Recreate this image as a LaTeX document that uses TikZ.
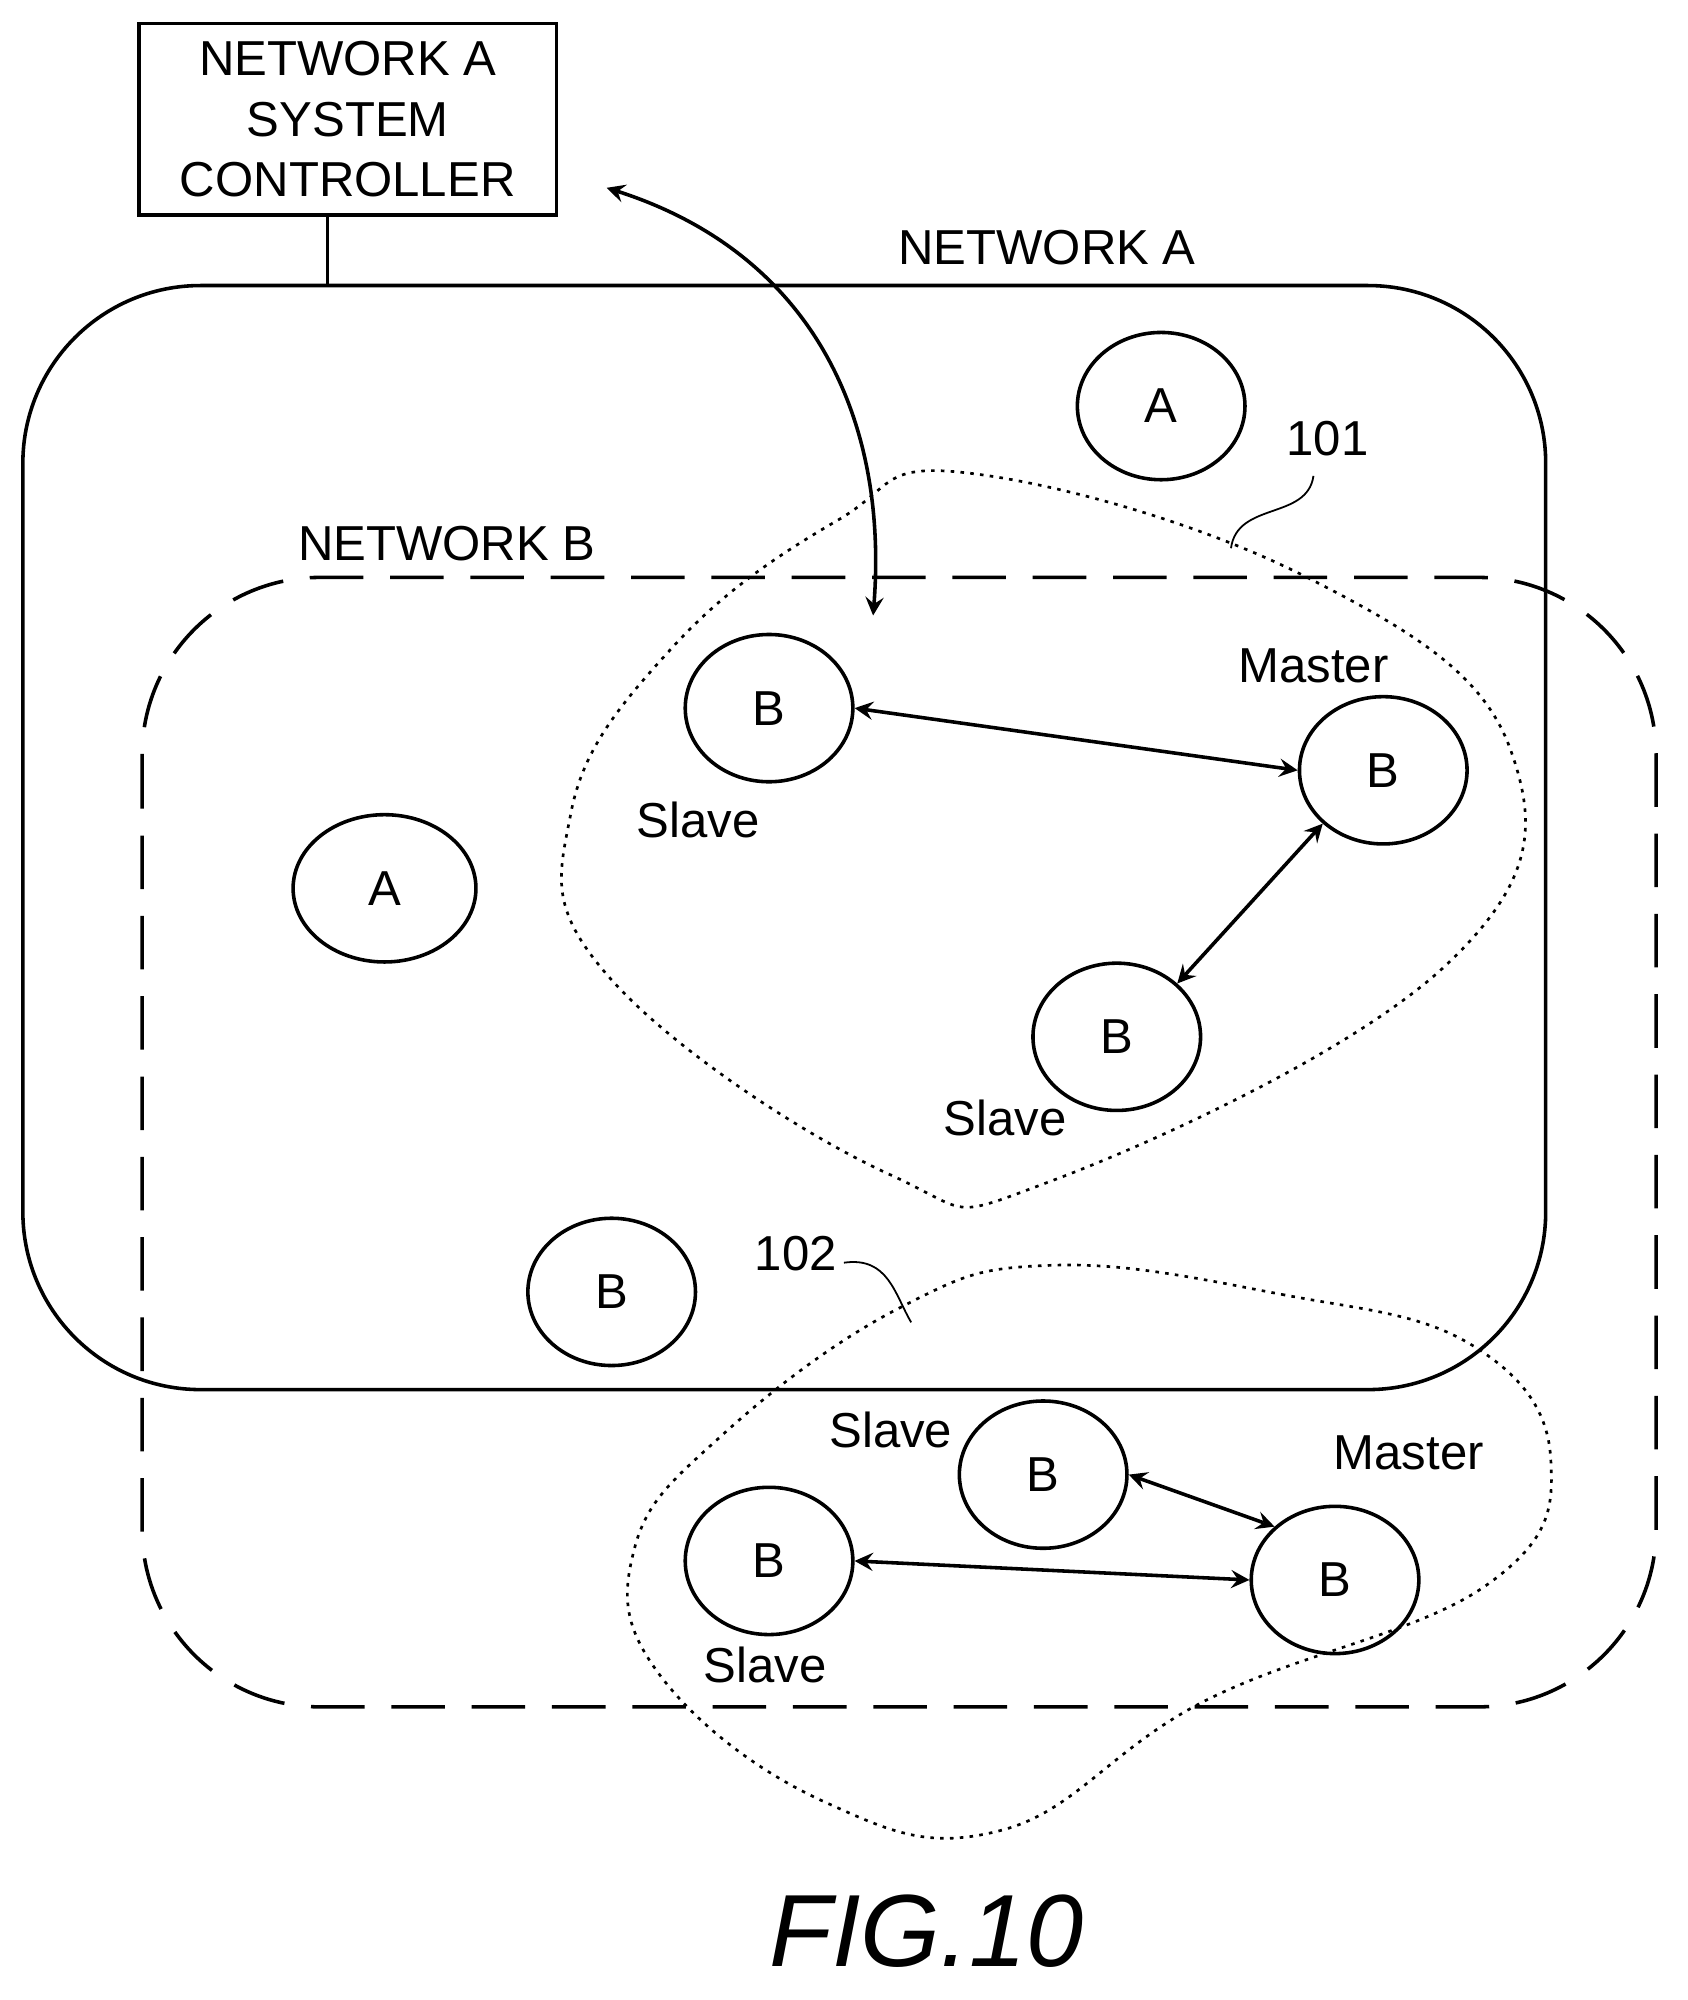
\documentclass[tikz,border=0pt]{standalone}
\usepackage{fontspec}
\setmainfont{Liberation Sans}
\usetikzlibrary{shapes.geometric}
\begin{document}
\begin{tikzpicture}[x=0.01cm,y=-0.01cm,>=stealth,
    dev/.style={draw,thick,ellipse,minimum width=1.32cm,minimum height=1.16cm,font=\fontsize{11}{13}\selectfont},
    lbl/.style={font=\fontsize{11}{13}\selectfont},
    group/.style={semithick,dash pattern=on 0.8pt off 1.4pt},
    link/.style={thick,<->}]
    \useasboundingbox (0,0) rectangle (1330,1576);
    % controller and networks
    \node [draw,thick,minimum width=3.29cm,minimum height=1.51cm,align=center,font=\fontsize{11}{13.5}\selectfont,anchor=north west] (ctrl) at (108,17) {NETWORK A\\SYSTEM\\CONTROLLER};
    \draw [thick,rounded corners=1.4cm] (18,225) rectangle (1218,1095);
    \coordinate (netA) at (258,225);
    \draw [thick] (ctrl.south -| netA) -- (netA);
    \draw [thick,dashed,dash pattern=on 12pt off 6pt,rounded corners=1.4cm] (112,455) rectangle (1305,1345);
    \node [lbl] (labA) at (825,195) {NETWORK A};
    \node [lbl] (labB) at (352,428) {NETWORK B};
    % groups
    \draw [group] plot [smooth cycle,tension=0.7] coordinates {(765,373) (1030,455) (1190,590) (1140,760) (830,930) (700,925) (480,770) (450,640) (530,510) (660,410)};
    \draw [group] plot [smooth cycle,tension=0.7] coordinates {(830,997) (1010,1020) (1160,1060) (1222,1150) (1170,1250) (950,1340) (790,1442) (650,1420) (520,1320) (500,1220) (570,1130) (710,1030)};
    \node [lbl] (n101) at (1046,346) {101};
    \node [lbl] (n102) at (627,988) {102};
    \draw (1035,375) .. controls (1030,410) and (975,395) .. (970,432);
    \draw (665,995) .. controls (700,990) and (705,1020) .. (718,1042);
    % devices
    \node [dev] (a1) at (915,320) {A};
    \node [dev,minimum width=1.44cm] (a2) at (303,700) {A};
    \node [dev] (s1) at (606,558) {B};
    \node [dev] (m1) at (1090,607) {B};
    \node [dev] (s2) at (880,817) {B};
    \node [dev] (b0) at (482,1018) {B};
    \node [dev] (s3) at (822,1162) {B};
    \node [dev] (s4) at (606,1230) {B};
    \node [dev] (m2) at (1052,1245) {B};
    \node [lbl] at (1035,525) {Master};
    \node [lbl] at (550,646) {Slave};
    \node [lbl] at (792,881) {Slave};
    \node [lbl] at (702,1127) {Slave};
    \node [lbl] at (1110,1145) {Master};
    \node [lbl] at (603,1312) {Slave};
    % links
    \coordinate (wl) at (688,485);
    \draw [link] (478,148) .. controls (640,200) and (700,330) .. (wl);
    \draw [link] (s1.east) -- (m1.west);
    \draw [link] (m1.south west) -- (s2.north east);
    \draw [link] (s3.east) -- (m2.north west);
    \draw [link] (s4.east) -- (m2.west);
    \node [font=\fontsize{23}{28}\selectfont\itshape] (fig) at (730,1522) {FIG.10};
\end{tikzpicture}
\end{document}
